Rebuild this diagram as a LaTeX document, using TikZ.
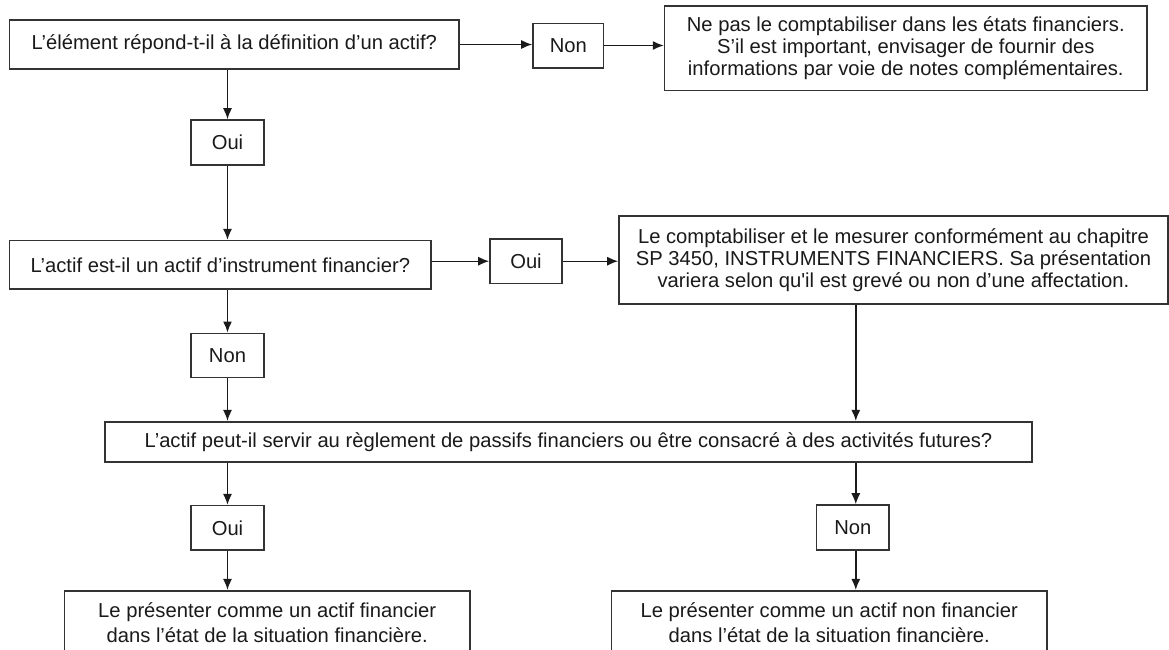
\documentclass[tikz,border=0pt]{standalone}
\usepackage{fontspec}
\setmainfont{Liberation Sans}
\usetikzlibrary{arrows.meta}
\definecolor{ink}{HTML}{1A1A1A}
\definecolor{edge}{HTML}{333333}
\begin{document}
\begin{tikzpicture}[x=1pt,y=-1pt,
  box/.style={draw=edge,line width=1.6pt,inner sep=0pt,align=center,text=ink,
    font=\fontsize{20.2}{22}\selectfont},
  lowbox/.style={box,font=\fontsize{20.2}{24.5}\selectfont},
  arr/.style={draw=ink,line width=1.4pt,-{Latex[length=11pt,width=9pt]}}]
\useasboundingbox (0,0) rectangle (1169,649);
\clip (0,0) rectangle (1169,649);
\fill[white] (0,0) rectangle (1169,649);

% nodes
\node[box,minimum width=449.4pt,minimum height=49pt] (b1) at (234.3,44.5)
  {L’élément répond-t-il à la définition d’un actif?};
\node[box,minimum width=70.6pt,minimum height=44.4pt] (n1) at (568.3,45.5) {Non};
\node[box,minimum width=482.4pt,minimum height=84.7pt] (note) at (905.8,48.3)
  {Ne pas le comptabiliser dans les états financiers.\\
   S’il est important, envisager de fournir des\\
   informations par voie de notes complémentaires.};
\node[box,minimum width=73pt,minimum height=45pt] (o1) at (227.5,142.5) {Oui};
\node[box,minimum width=421.4pt,minimum height=48.3pt] (b2) at (220.3,264.8)
  {L’actif est-il un actif d’instrument financier?};
\node[box,minimum width=72pt,minimum height=44.3pt] (o2) at (526,261.2) {Oui};
\node[box,minimum width=549pt,minimum height=88pt] (sp) at (893.5,260)
  {Le comptabiliser et le mesurer conformément au chapitre\\
   SP 3450, INSTRUMENTS FINANCIERS. Sa présentation\\
   variera selon qu\textquotesingle il est grevé ou non d’une affectation.};
\node[box,minimum width=73pt,minimum height=44pt] (n2) at (227.5,355.3) {Non};
\node[box,minimum width=927pt,minimum height=40pt] (b3) at (568.5,441.7)
  {L’actif peut-il servir au règlement de passifs financiers ou être consacré à des activités futures?};
\node[box,minimum width=73pt,minimum height=44.3pt] (o3) at (227.5,527.8) {Oui};
\node[box,minimum width=72.4pt,minimum height=45pt] (n3) at (852.8,527.5) {Non};
\node[lowbox,minimum width=405.7pt,minimum height=63.6pt] (b4) at (267.2,622.5)
  {Le présenter comme un actif financier\\
   dans l’état de la situation financière.};
\node[lowbox,minimum width=435.4pt,minimum height=63.6pt] (b5) at (829.3,622.5)
  {Le présenter comme un actif non financier\\
   dans l’état de la situation financière.};
\coordinate (xr) at (855.8,0);

% connectors
\draw[arr] (b1.east) -- (b1.east -| n1.west);
\draw[arr] (n1.east) -- (n1.east -| note.west);
\draw[arr] (b1.south -| o1) -- (o1.north);
\draw[arr] (o1.south) -- (b2.north -| o1);
\draw[arr] (b2.east |- o2) -- (o2.west);
\draw[arr] (o2.east) -- (o2.east -| sp.west);
\draw[arr] (b2.south -| n2) -- (n2.north);
\draw[arr] (n2.south) -- (b3.north -| n2);
\draw[arr] (sp.south -| xr) -- (b3.north -| xr);
\draw[arr] (b3.south -| o3) -- (o3.north);
\draw[arr] (o3.south) -- (b4.north -| o3);
\draw[arr] (b3.south -| xr) -- (n3.north -| xr);
\draw[arr] (n3.south -| xr) -- (b5.north -| xr);
\end{tikzpicture}
\end{document}
